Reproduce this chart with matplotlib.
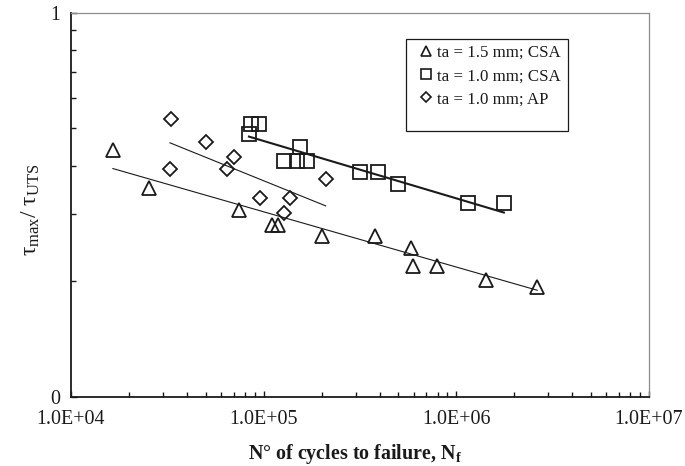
import numpy as np
import matplotlib
matplotlib.use('Agg')
import matplotlib.pyplot as plt
from matplotlib.lines import Line2D
from matplotlib.patches import Rectangle
from matplotlib.ticker import LogLocator, FuncFormatter, NullFormatter

plt.rcParams['font.family'] = ['Liberation Serif', 'DejaVu Serif']
plt.rcParams['mathtext.fontset'] = 'custom'
plt.rcParams['mathtext.rm'] = 'Liberation Serif'
plt.rcParams['mathtext.it'] = 'Liberation Serif:italic'
plt.rcParams['mathtext.bf'] = 'Liberation Serif:bold'

# ---------------- data ----------------
series_labels = ['ta = 1.5 mm; CSA', 'ta = 1.0 mm; CSA', 'ta = 1.0 mm; AP']

tri_n = [1.65e4, 2.53e4, 7.44e4, 1.11e5, 1.19e5, 2.0e5, 3.78e5, 5.81e5, 5.97e5,
         7.96e5, 1.42e6, 2.63e6]
tri_r = [0.439, 0.351, 0.306, 0.281, 0.281, 0.263, 0.263, 0.245, 0.219,
         0.219, 0.202, 0.193]

sq_n = [8.39e4, 8.56e4, 9.49e4, 1.274e5, 1.494e5, 1.54e5, 1.672e5, 3.16e5,
        3.92e5, 4.96e5, 1.145e6, 1.766e6]
sq_r = [0.485, 0.513, 0.513, 0.411, 0.411, 0.448, 0.411, 0.385,
        0.385, 0.358, 0.320, 0.320]

dia_n = [3.265e4, 3.30e4, 5.0e4, 6.43e4, 6.99e4, 9.57e4, 1.279e5, 1.364e5, 2.10e5]
dia_r = [0.3925, 0.528, 0.4605, 0.3917, 0.4217, 0.330, 0.302, 0.330, 0.3683]

# power-law trend lines  r = a * N^b
trend_a = [1.589, 2.591, 3.788]
trend_b = [-0.1438, -0.1494, -0.2031]

# ---------------- figure ----------------
fig = plt.figure(figsize=(6.85, 4.66), dpi=100)
ax = fig.add_axes([0.1036, 0.148, 0.8438, 0.8245])

ink = '#1a1a1a'
series = [(tri_n, tri_r, '^', 10.0, 0.8), (sq_n, sq_r, 's', 9.4, 1.5), (dia_n, dia_r, 'D', 7.0, 0.8)]
for i, (n, r, mk, ms, lw) in enumerate(series):
    ax.plot(n, r, linestyle='none', marker=mk, markersize=ms, markerfacecolor='none',
            markeredgecolor=ink, markeredgewidth=1.3, zorder=3)
    xs = np.geomspace(min(n), max(n), 60)
    ax.plot(xs, trend_a[i] * xs ** trend_b[i], color=ink, linewidth=lw, zorder=2)

ax.set_xscale('log')
ax.set_yscale('log')
ax.set_xlim(1e4, 1e7)
ax.set_ylim(0.1, 1)

ax.xaxis.set_major_locator(LogLocator(base=10, numticks=10))
ax.xaxis.set_major_formatter(FuncFormatter(lambda v, p: f"{v:.1E}"))
ax.xaxis.set_minor_locator(LogLocator(base=10, subs=np.arange(2, 10), numticks=20))
ax.xaxis.set_minor_formatter(NullFormatter())
ax.yaxis.set_major_locator(LogLocator(base=10, numticks=10))
ax.yaxis.set_major_formatter(FuncFormatter(lambda v, p: f"{v:.0f}"))
ax.yaxis.set_minor_locator(LogLocator(base=10, subs=np.arange(2, 10), numticks=20))
ax.yaxis.set_minor_formatter(NullFormatter())

ax.tick_params(which='both', direction='in', colors=ink, labelsize=14.4)
ax.tick_params(which='major', length=4.5, width=1.0)
ax.tick_params(which='minor', length=3.5, width=1.0)
ax.tick_params(axis='x', pad=9)
ax.tick_params(axis='y', pad=8)

for s in ['left', 'bottom']:
    ax.spines[s].set_color(ink)
    ax.spines[s].set_linewidth(1.3)
for s in ['top', 'right']:
    ax.spines[s].set_color('#8c8c8c')
    ax.spines[s].set_linewidth(0.9)

fig.text(355 / 685, 1 - 454.5 / 466, r'N° of cycles to failure, $\mathbf{N_f}$',
         ha='center', va='center', fontsize=14.4, fontweight='bold', color=ink)
fig.text(31 / 685, 1 - 210 / 466, r'$\mathregular{τ_{max}/\ τ_{UTS}}$',
         ha='center', va='center', rotation=90, fontsize=17, color=ink)

# legend
handles = [Line2D([], [], linestyle='none', marker='^', markersize=7.6, markerfacecolor='none',
                  markeredgecolor=ink, markeredgewidth=1.2),
           Line2D([], [], linestyle='none', marker='s', markersize=7.0, markerfacecolor='none',
                  markeredgecolor=ink, markeredgewidth=1.2),
           Line2D([], [], linestyle='none', marker='D', markersize=5.3, markerfacecolor='none',
                  markeredgecolor=ink, markeredgewidth=1.2)]
leg = ax.legend(handles, series_labels, loc='upper left', bbox_to_anchor=(0.6055, 0.916),
                frameon=False, fontsize=12.2, handlelength=0.6, handletextpad=0.35,
                borderpad=0, borderaxespad=0, labelspacing=0.42)
for t in leg.get_texts():
    t.set_color(ink)
ax.add_patch(Rectangle((0.579, 0.692), 0.281, 0.2386, transform=ax.transAxes,
                       fill=False, edgecolor=ink, linewidth=0.9, zorder=4))

fig.savefig('out.png', dpi=100)
